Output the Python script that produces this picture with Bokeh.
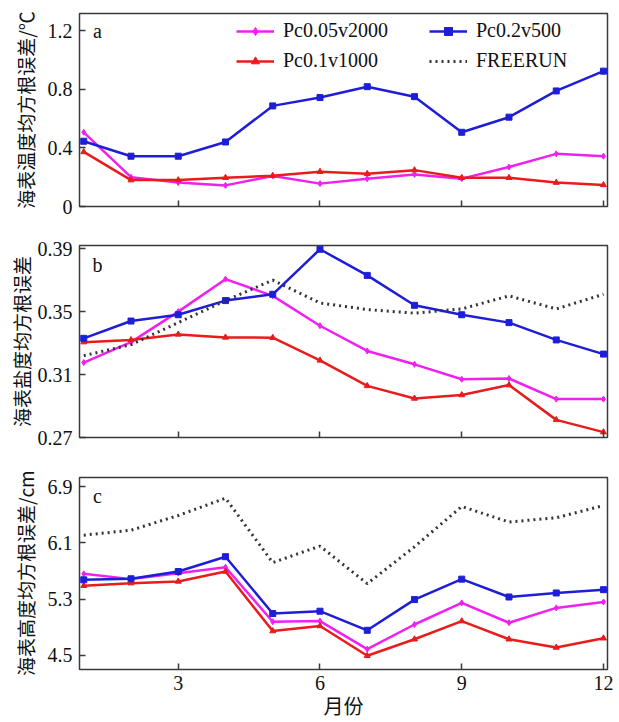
from bokeh.plotting import figure
from bokeh.layouts import column
from bokeh.models import Range1d, FixedTicker, Legend, LegendItem, Label
from bokeh.embed import file_html
from bokeh.resources import INLINE

months = [1, 2, 3, 4, 5, 6, 7, 8, 9, 10, 11, 12]
x_ticks = [3, 6, 9, 12]

# panel a: SST RMSE (deg C)
sst_pc005 = [0.506, 0.200, 0.163, 0.144, 0.208, 0.156, 0.190, 0.219, 0.190, 0.269, 0.359, 0.343]
sst_pc01 = [0.372, 0.180, 0.180, 0.196, 0.210, 0.237, 0.223, 0.248, 0.196, 0.196, 0.163, 0.147]
sst_pc02 = [0.445, 0.343, 0.343, 0.440, 0.686, 0.743, 0.817, 0.749, 0.506, 0.609, 0.788, 0.923]
sst_free = [float("nan")] * 12  # FREERUN is not drawn in panel a (legend only)
sst_ticks = [0, 0.4, 0.8, 1.2]

# panel b: SSS RMSE
sss_pc005 = [0.3176, 0.3306, 0.3500, 0.3706, 0.3600, 0.3410, 0.3250, 0.3165, 0.3070, 0.3075, 0.2944, 0.2944]
sss_pc01 = [0.3306, 0.3320, 0.3355, 0.3336, 0.3334, 0.3190, 0.3028, 0.2948, 0.2970, 0.3033, 0.2812, 0.2734]
sss_pc02 = [0.3330, 0.3440, 0.3480, 0.3570, 0.3610, 0.3896, 0.3730, 0.3540, 0.3480, 0.3430, 0.3320, 0.3230]
sss_free = [0.3220, 0.3290, 0.3430, 0.3570, 0.3700, 0.3555, 0.3513, 0.3490, 0.3517, 0.3600, 0.3517, 0.3610]
sss_ticks = [0.27, 0.31, 0.35, 0.39]

# panel c: SSH RMSE (cm)
ssh_pc005 = [5.660, 5.585, 5.670, 5.754, 4.979, 4.988, 4.589, 4.940, 5.247, 4.965, 5.176, 5.260]
ssh_pc01 = [5.491, 5.528, 5.552, 5.693, 4.847, 4.918, 4.495, 4.730, 4.988, 4.730, 4.613, 4.744]
ssh_pc02 = [5.575, 5.590, 5.693, 5.904, 5.096, 5.129, 4.857, 5.294, 5.585, 5.331, 5.388, 5.435]
ssh_free = [6.210, 6.280, 6.490, 6.736, 5.820, 6.055, 5.520, 6.045, 6.618, 6.397, 6.458, 6.632]
ssh_ticks = [4.5, 5.3, 6.1, 6.9]

labels = ["Pc0.05v2000", "Pc0.1v1000", "Pc0.2v500", "FREERUN"]
x_title = "月份"

C_MAG = "#f020f0"
C_RED = "#e81c1c"
C_BLUE = "#1e1ed8"
C_FREE = "#333333"
SERIF = "Liberation Serif"
CJK = "Noto Sans CJK SC"

X0, X1 = 0.91, 12.085


def make_fig(height, top, bottom, yr, yticks, ylabel, label_standoff, show_x):
    p = figure(width=619, height=height, output_backend="svg", toolbar_location=None,
               x_range=Range1d(X0, X1), y_range=Range1d(*yr),
               min_border_left=79, min_border_right=12,
               min_border_top=top, min_border_bottom=bottom)
    p.xgrid.visible = False
    p.ygrid.visible = False
    p.background_fill_color = "white"
    p.outline_line_color = "#3a3a3a"
    p.outline_line_width = 1.5
    p.outline_line_alpha = 1.0
    for ax in (p.xaxis[0], p.yaxis[0]):
        ax.axis_line_color = None
        ax.major_tick_in = 6
        ax.major_tick_out = 0
        ax.minor_tick_in = 0
        ax.minor_tick_out = 0
        ax.major_tick_line_color = "#3a3a3a"
        ax.major_tick_line_width = 1.5
        ax.major_label_text_font = SERIF
        ax.major_label_text_font_size = "20px"
        ax.major_label_text_color = "#111111"
    p.xaxis.ticker = FixedTicker(ticks=x_ticks)
    p.yaxis.ticker = FixedTicker(ticks=yticks)
    p.yaxis.major_label_standoff = 7
    p.yaxis.axis_label = ylabel
    p.yaxis.axis_label_text_font = CJK
    p.yaxis.axis_label_text_font_style = "normal"
    p.yaxis.axis_label_text_font_size = "19px"
    p.yaxis.axis_label_text_color = "#111111"
    p.yaxis.axis_label_standoff = label_standoff
    if show_x:
        p.xaxis.major_label_standoff = 6
        p.xaxis.axis_label = x_title
        p.xaxis.axis_label_text_font = CJK
        p.xaxis.axis_label_text_font_style = "normal"
        p.xaxis.axis_label_text_font_size = "20px"
        p.xaxis.axis_label_text_color = "#111111"
        p.xaxis.axis_label_standoff = -2
    else:
        p.xaxis.major_label_overrides = {t: "" for t in x_ticks}
        p.xaxis.major_label_text_font_size = "1px"
        p.xaxis.major_label_standoff = 0
    return p


def series(p, ys, color, marker, msize, width=2.5):
    l = p.line(months, ys, line_color=color, line_width=width)
    s = p.scatter(months, ys, marker=marker, size=msize, fill_color=color, line_color=color)
    return l, s


def free(p, ys):
    return p.line(months, ys, line_color=C_FREE, line_width=3, line_dash="2 4")


def panel_label(p, x, y, t):
    p.add_layout(Label(x=x, y=y, text=t, text_font=SERIF, text_font_size="20px",
                       text_align="center", text_baseline="middle", text_color="#111111"))


# Panel a
pa = make_fig(225, 13, 19, (0, 1.316), sst_ticks, "海表温度均方根误差/℃", 6, False)
a_mag = series(pa, sst_pc005, C_MAG, "diamond", 6)
a_red = series(pa, sst_pc01, C_RED, "triangle", 6)
a_blue = series(pa, sst_pc02, C_BLUE, "square", 6)
a_free = free(pa, sst_free)
panel_label(pa, 1.29, 1.2, "a")

leg_common = dict(border_line_alpha=0, background_fill_alpha=0, padding=0, margin=0,
                  glyph_width=38, glyph_height=20, label_height=20, spacing=7,
                  label_standoff=9, label_text_font=SERIF, label_text_font_size="20px",
                  label_text_color="#111111")
leg1 = Legend(items=[LegendItem(label=labels[0], renderers=list(a_mag)),
                     LegendItem(label=labels[1], renderers=list(a_red))],
              location=(157, 134), **leg_common)
leg2 = Legend(items=[LegendItem(label=labels[2], renderers=list(a_blue)),
                     LegendItem(label=labels[3], renderers=[a_free])],
              location=(350, 134), **leg_common)
pa.add_layout(leg1, "center")
pa.add_layout(leg2, "center")

# Panel b
pb = make_fig(232, 20, 20, (0.27, 0.392), sss_ticks, "海表盐度均方根误差", 0, False)
series(pb, sss_pc005, C_MAG, "diamond", 6)
series(pb, sss_pc01, C_RED, "triangle", 6)
series(pb, sss_pc02, C_BLUE, "square", 6)
free(pb, sss_free)
panel_label(pb, 1.29, 0.3797, "b")

# Panel c
pc = make_fig(265, 20, 51, (4.30, 7.03), ssh_ticks, "海表高度均方根误差/cm", 6, True)
series(pc, ssh_pc005, C_MAG, "diamond", 6)
series(pc, ssh_pc01, C_RED, "triangle", 6)
series(pc, ssh_pc02, C_BLUE, "square", 6)
free(pc, ssh_free)
panel_label(pc, 1.29, 6.763, "c")

layout = column(pa, pb, pc, spacing=0)
open("out.html", "w").write(file_html(layout, INLINE))
